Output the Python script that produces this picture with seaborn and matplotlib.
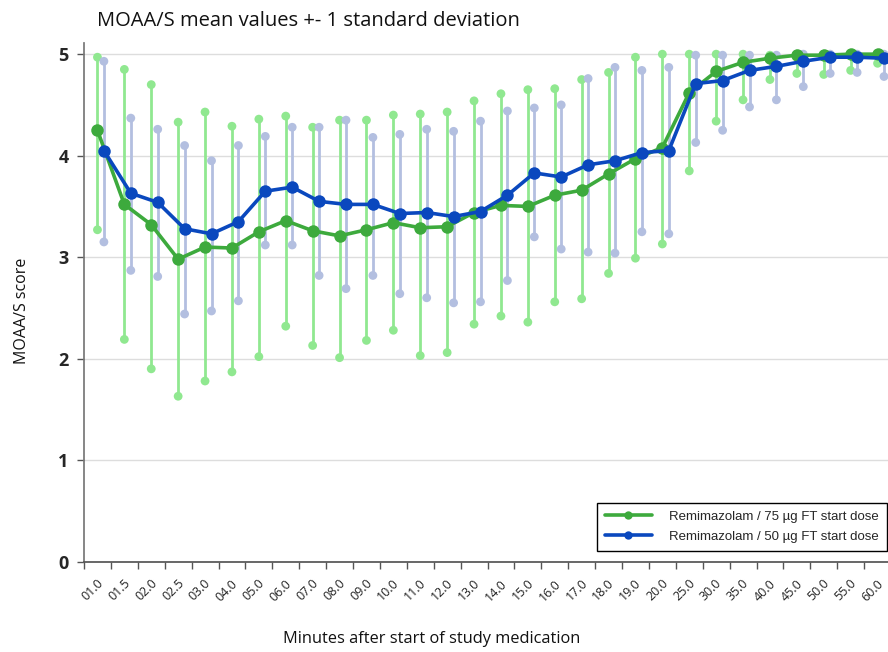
import numpy as np
import pandas as pd
import matplotlib
matplotlib.use("Agg")
import matplotlib.pyplot as plt
import matplotlib.transforms as mtransforms
import seaborn as sns

categories = ["01.0", "01.5", "02.0", "02.5", "03.0", "04.0", "05.0", "06.0", "07.0", "08.0",
              "09.0", "10.0", "11.0", "12.0", "13.0", "14.0", "15.0", "16.0", "17.0", "18.0",
              "19.0", "20.0", "25.0", "30.0", "35.0", "40.0", "45.0", "50.0", "55.0", "60.0"]

g75_mean = [4.25, 3.52, 3.32, 2.98, 3.10, 3.09, 3.25, 3.36, 3.26, 3.21,
            3.27, 3.34, 3.29, 3.30, 3.44, 3.51, 3.50, 3.61, 3.66, 3.82,
            3.97, 4.08, 4.62, 4.83, 4.92, 4.96, 4.99, 4.99, 5.00, 5.00]
g75_upper = [4.97, 4.85, 4.70, 4.33, 4.43, 4.29, 4.36, 4.39, 4.28, 4.35,
             4.35, 4.40, 4.41, 4.43, 4.54, 4.61, 4.65, 4.66, 4.75, 4.82,
             4.97, 5.00, 5.00, 5.00, 5.00, 4.99, 5.00, 5.00, 5.00, 5.00]
g75_lower = [3.27, 2.19, 1.90, 1.63, 1.78, 1.87, 2.02, 2.32, 2.13, 2.01,
             2.18, 2.28, 2.03, 2.06, 2.34, 2.42, 2.36, 2.56, 2.59, 2.84,
             2.99, 3.13, 3.85, 4.34, 4.55, 4.75, 4.81, 4.80, 4.84, 4.91]

b50_mean = [4.05, 3.63, 3.54, 3.28, 3.23, 3.35, 3.65, 3.69, 3.55, 3.52,
            3.52, 3.43, 3.44, 3.40, 3.45, 3.61, 3.83, 3.79, 3.91, 3.95,
            4.03, 4.05, 4.71, 4.74, 4.84, 4.88, 4.93, 4.97, 4.97, 4.96]
b50_upper = [4.93, 4.37, 4.26, 4.10, 3.95, 4.10, 4.19, 4.28, 4.28, 4.35,
             4.18, 4.21, 4.26, 4.24, 4.34, 4.44, 4.47, 4.50, 4.76, 4.87,
             4.84, 4.87, 4.99, 4.99, 4.99, 4.99, 5.00, 5.00, 5.00, 5.00]
b50_lower = [3.15, 2.87, 2.81, 2.44, 2.47, 2.57, 3.12, 3.12, 2.82, 2.69,
             2.82, 2.64, 2.60, 2.55, 2.56, 2.77, 3.20, 3.08, 3.05, 3.04,
             3.25, 3.23, 4.13, 4.25, 4.48, 4.55, 4.68, 4.81, 4.82, 4.78]

series_labels = ["Remimazolam / 75 µg FT start dose", "Remimazolam / 50 µg FT start dose"]

sns.set_theme(style="white")
plt.rcParams["font.family"] = ["Open Sans", "DejaVu Sans"]

fig = plt.figure(figsize=(8.88, 6.52), dpi=100)
ax = fig.add_axes([84 / 888, 1 - 561.7 / 652, (891 - 84) / 888, (561.7 - 43) / 652])

idx = np.arange(len(categories))
specs = [
    (g75_mean, g75_upper, g75_lower, 0.0, "#3DAA3D", "#90E890", series_labels[0]),
    (b50_mean, b50_upper, b50_lower, 0.24, "#0A48BE", "#B3BFE0", series_labels[1]),
]

# error bars first
for mean, up, lo, off, dark, light, lab in specs:
    x = idx + off
    ax.vlines(x, lo, up, color=light, lw=2.0, zorder=2)
    ends = pd.DataFrame({"x": np.concatenate([x, x]), "y": np.concatenate([lo, up])})
    sns.scatterplot(data=ends, x="x", y="y", ax=ax, color=light, s=40,
                    edgecolor="none", zorder=3, legend=False)

for mean, up, lo, off, dark, light, lab in specs:
    df = pd.DataFrame({"x": idx + off, "y": mean})
    sns.lineplot(data=df, x="x", y="y", ax=ax, color=dark, lw=2.6, marker="o",
                 markersize=9, markeredgewidth=0, label=lab, zorder=5)

ax.set_xlim(-0.5, len(categories) - 0.5)
ax.set_ylim(0, 5.11)
ax.set_xticks(idx)
ax.set_xticklabels(categories, rotation=45, ha="center", fontsize=9, color="#222222")
ax.tick_params(axis="x", length=0, pad=11)
shift = mtransforms.ScaledTranslation(-5 / 100, 0, fig.dpi_scale_trans)
for lbl in ax.get_xticklabels():
    lbl.set_transform(lbl.get_transform() + shift)
# boundary tick marks
ax.set_xticks(np.arange(len(categories) + 1) - 0.5, minor=True)
ax.tick_params(axis="x", which="minor", length=5, width=1, color="#555555", direction="out", bottom=True)
ax.set_yticks([0, 1, 2, 3, 4, 5])
ax.set_yticklabels(["0", "1", "2", "3", "4", "5"], fontsize=13, fontweight="bold")
ax.tick_params(axis="y", length=5, width=1, color="#555555", direction="out", left=True, pad=6)
ax.grid(axis="y", color="#DDDDDD", lw=1)
ax.set_axisbelow(True)
for s in ["top", "right"]:
    ax.spines[s].set_visible(False)
ax.spines["left"].set_color("#777777")
ax.spines["bottom"].set_color("#555555")
ax.set_xlabel("")
ax.set_ylabel("")

fig.text(97 / 888, 1 - 21 / 652, "MOAA/S mean values +- 1 standard deviation",
         fontsize=14.5, va="center", ha="left", color="#111111")
fig.text(22 / 888, 1 - 311 / 652, "MOAA/S score", rotation=90, fontsize=11.5,
         va="center", ha="center", color="#111111")
fig.text(432 / 888, 1 - 639 / 652, "Minutes after start of study medication",
         fontsize=11.8, va="center", ha="center", color="#111111")

leg = ax.legend(loc="lower right", bbox_to_anchor=(887 / 888, 1 - 551 / 652),
                bbox_transform=fig.transFigure, borderaxespad=0, frameon=True,
                fancybox=False, edgecolor="black", framealpha=1,
                prop={"family": "Liberation Sans", "size": 9.5},
                handlelength=3.6, handletextpad=1.3, borderpad=0.6, labelspacing=0.6)
leg.get_frame().set_linewidth(1.0)
for h in leg.legend_handles:
    h.set_markersize(6)

fig.savefig("out.png", dpi=100)
